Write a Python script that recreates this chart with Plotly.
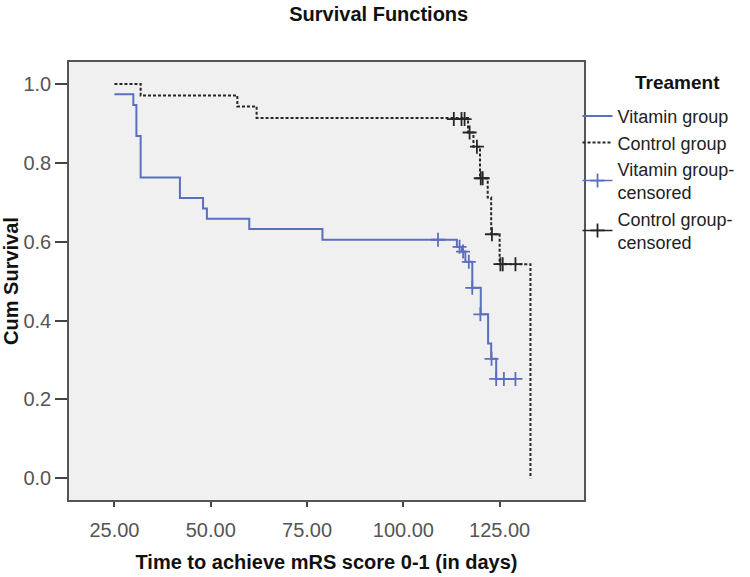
import plotly.graph_objects as go

# ---- data ----
vitamin_time = [25.0, 29.9, 30.7, 31.8, 42.0, 48.0, 49.0, 60.0, 79.0, 113.9, 115.2, 116.1, 117.9, 120.1, 122.0, 122.8, 124.1, 129.1]
vitamin_surv = [0.974, 0.947, 0.868, 0.763, 0.711, 0.684, 0.658, 0.632, 0.605, 0.587, 0.575, 0.549, 0.483, 0.416, 0.342, 0.303, 0.252, 0.252]

control_time = [25.0, 31.8, 56.9, 61.9, 116.8, 118.2, 119.9, 121.9, 122.8, 125.0, 133.0]
control_surv = [1.0, 0.971, 0.943, 0.914, 0.877, 0.841, 0.761, 0.712, 0.619, 0.543, 0.0]

vitamin_cens_time = [109.0, 114.6, 115.5, 117.0, 117.9, 120.0, 122.9, 124.1, 126.1, 129.1]
vitamin_cens_surv = [0.605, 0.587, 0.575, 0.549, 0.483, 0.416, 0.303, 0.252, 0.252, 0.252]

control_cens_time = [113.1, 115.1, 115.9, 117.2, 119.1, 120.1, 120.6, 123.0, 125.2, 125.8, 129.1]
control_cens_surv = [0.911, 0.911, 0.911, 0.877, 0.841, 0.761, 0.761, 0.619, 0.543, 0.543, 0.543]

x_ticks = [25, 50, 75, 100, 125]
y_ticks = [0.0, 0.2, 0.4, 0.6, 0.8, 1.0]

series_names = ["Vitamin group", "Control group", "Vitamin group-<br>censored", "Control group-<br>censored"]

BLUE = "#5b6fbd"
BLACK = "#262626"
FONT = "Liberation Sans, Arial, sans-serif"


def gapped(vals):
    out = []
    for v in vals:
        out.extend([v, None])
    return out


fig = go.Figure()
fig.add_trace(go.Scatter(x=vitamin_time, y=vitamin_surv, mode="lines", line_shape="hv",
                         line=dict(color=BLUE, width=2), name=series_names[0]))
fig.add_trace(go.Scatter(x=control_time, y=control_surv, mode="lines", line_shape="hv",
                         line=dict(color=BLACK, width=2, dash="3px,2px"), name=series_names[1]))
fig.add_trace(go.Scatter(x=gapped(vitamin_cens_time), y=gapped(vitamin_cens_surv), mode="lines+markers",
                         connectgaps=False, line=dict(color=BLUE, width=1.5),
                         marker=dict(symbol="cross-thin", size=10, line=dict(color=BLUE, width=1.8)),
                         name=series_names[2]))
fig.add_trace(go.Scatter(x=gapped(control_cens_time), y=gapped(control_cens_surv), mode="lines+markers",
                         connectgaps=False, line=dict(color=BLACK, width=1.5),
                         marker=dict(symbol="cross-thin", size=10, line=dict(color=BLACK, width=1.8)),
                         name=series_names[3]))

fig.update_layout(
    width=750, height=577,
    margin=dict(l=69, r=166, t=62, b=77, autoexpand=False),
    paper_bgcolor="white", plot_bgcolor="#f0f0f0",
    font=dict(family=FONT, color="#222"),
    title=dict(text="<b>Survival Functions</b>", x=0.505, xref="container", xanchor="center",
               y=1 - 14 / 577, yref="container", yanchor="middle",
               font=dict(size=20, color="#111")),
    legend=dict(x=0.9874, xanchor="left", y=0.918, yanchor="top", bgcolor="rgba(0,0,0,0)",
                font=dict(size=18, color="#222"), itemwidth=30, tracegroupgap=0),
    showlegend=True,
    annotations=[dict(text="<b>Treament</b>", xref="paper", yref="paper", x=1.1806, y=0.954,
                      xanchor="center", yanchor="middle", showarrow=False,
                      font=dict(size=19, color="#111"))],
)

fig.update_xaxes(range=[13.2, 146.9], tickvals=x_ticks, tickformat=".2f", automargin=False,
                 ticks="outside", ticklen=5, tickwidth=1.5, tickcolor="#444",
                 ticklabelstandoff=6,
                 showline=True, mirror=True, linecolor="#555", linewidth=1.5,
                 showgrid=False, zeroline=False,
                 tickfont=dict(size=20, color="#555"),
                 title=dict(text="<b>Time to achieve mRS score 0-1 (in days)</b>",
                            font=dict(size=20, color="#111"), standoff=15))
fig.update_yaxes(range=[-0.055, 1.0558], tickvals=y_ticks, tickformat=".1f", automargin=False,
                 ticks="outside", ticklen=12, tickwidth=1.5, tickcolor="#444",
                 showline=True, mirror=True, linecolor="#555", linewidth=1.5,
                 showgrid=False, zeroline=False,
                 tickfont=dict(size=20, color="#555"),
                 title=dict(text="<b>Cum Survival</b>", font=dict(size=20, color="#111"), standoff=9))

fig.write_html("out.html")
